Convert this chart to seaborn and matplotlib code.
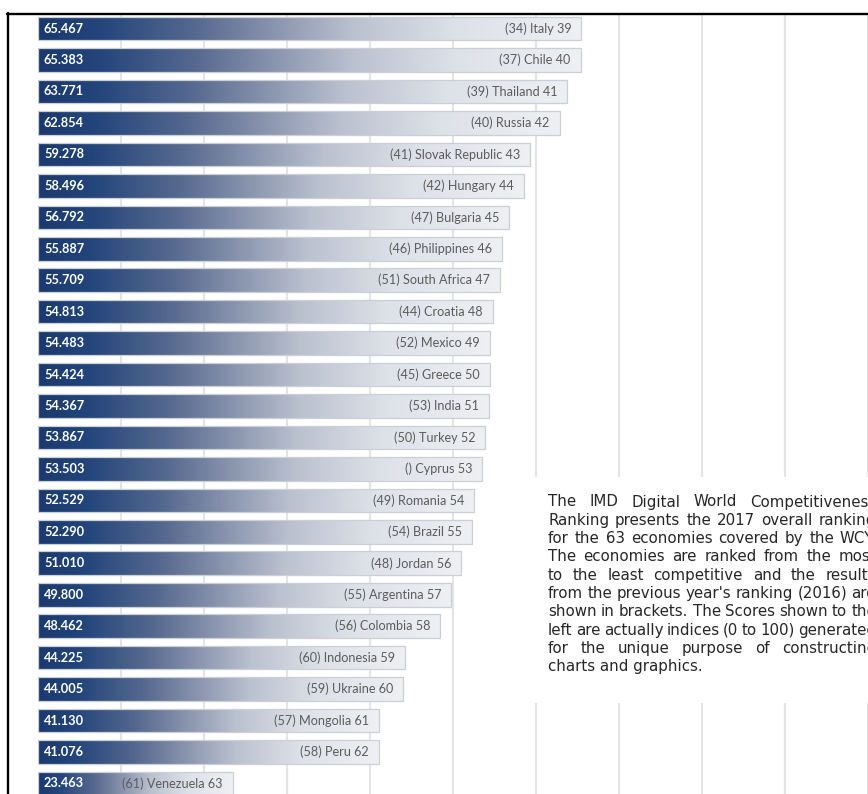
import numpy as np
import pandas as pd
import matplotlib
matplotlib.use("Agg")
import matplotlib.pyplot as plt
import seaborn as sns
from matplotlib.colors import LinearSegmentedColormap
from matplotlib.patches import Rectangle
from matplotlib.lines import Line2D
from matplotlib.transforms import IdentityTransform

# IMD Digital World Competitiveness Ranking 2017, ranks 39-63
countries = ["Italy", "Chile", "Thailand", "Russia", "Slovak Republic", "Hungary",
             "Bulgaria", "Philippines", "South Africa", "Croatia", "Mexico", "Greece",
             "India", "Turkey", "Cyprus", "Romania", "Brazil", "Jordan", "Argentina",
             "Colombia", "Indonesia", "Ukraine", "Mongolia", "Peru", "Venezuela"]
scores = [65.467, 65.383, 63.771, 62.854, 59.278, 58.496, 56.792, 55.887, 55.709,
          54.813, 54.483, 54.424, 54.367, 53.867, 53.503, 52.529, 52.290, 51.010,
          49.800, 48.462, 44.225, 44.005, 41.130, 41.076, 23.463]
rank_2017 = [39, 40, 41, 42, 43, 44, 45, 46, 47, 48, 49, 50, 51, 52, 53, 54, 55, 56,
             57, 58, 59, 60, 61, 62, 63]
rank_2016 = ["34", "37", "39", "40", "41", "42", "47", "46", "51", "44", "52", "45",
             "53", "50", "", "49", "54", "48", "55", "56", "60", "59", "57", "58", "61"]

note_lines = [
    "The IMD Digital World Competitiveness",
    "Ranking presents the 2017 overall ranking",
    "for the 63 economies covered by the WCY.",
    "The economies are ranked from the most",
    "to the least competitive and the results",
    "from the previous year's ranking (2016) are",
    "shown in brackets. The Scores shown to the",
    "left are actually indices (0 to 100) generated",
    "for the unique purpose of constructing",
    "charts and graphics.",
]

sns.set_theme(style="white")
plt.rcParams["font.family"] = ["Lato", "DejaVu Sans"]

W, H = 868, 794
fig = plt.figure(figsize=(W / 100, H / 100), dpi=100)
fig.patch.set_facecolor("white")
ax = fig.add_axes([38 / W, 0, 830 / W, (H - 14) / H])

df = pd.DataFrame({"country": countries, "score": scores})
sns.barplot(data=df, x="score", y="country", orient="h", width=0.75,
            color="white", saturation=1, ax=ax)

# navy-to-silver gradient clipped to every bar
bar_cmap = LinearSegmentedColormap.from_list(
    "navy_fade",
    [(0.0, "#1b396e"), (0.11, "#23457b"), (0.29, "#56698f"), (0.43, "#8893ad"),
     (0.58, "#bac1cf"), (0.77, "#dde1e8"), (1.0, "#eef0f3")])
ramp = np.linspace(0, 1, 256).reshape(1, -1)
for patch in ax.patches:
    x0, y0 = patch.get_x(), patch.get_y()
    w, h = patch.get_width(), patch.get_height()
    im = ax.imshow(ramp, cmap=bar_cmap, extent=[x0, x0 + w, y0 + h, y0],
                   aspect="auto", interpolation="bilinear", zorder=1)
    im.set_clip_path(patch)
    patch.set_facecolor("none")
    patch.set_edgecolor("#cbcfd6")
    patch.set_linewidth(0.9)
    patch.set_zorder(1.5)

ax.set_xlim(0, 100)
ax.set_ylim(24.336, -0.464)
ax.set_xticks(np.arange(10, 101, 10))
ax.xaxis.grid(True, color="#e4e4e4", linewidth=1.5)
ax.yaxis.grid(False)
ax.set_axisbelow(True)
ax.tick_params(left=False, bottom=False, labelleft=False, labelbottom=False)
ax.set_xlabel("")
ax.set_ylabel("")
for sp in ax.spines.values():
    sp.set_visible(False)

for i, (s, r16, r17, c) in enumerate(zip(scores, rank_2016, rank_2017, countries)):
    ax.annotate(f"{s:.3f}", xy=(0, i), xytext=(6, 0), textcoords="offset pixels",
                ha="left", va="center", color="white", fontsize=9.2,
                fontweight="bold", zorder=3)
    ax.annotate(f"({r16}) {c} {r17}", xy=(s, i), xytext=(-10, 0),
                textcoords="offset pixels", ha="right", va="center",
                color="#5c5c5c", fontsize=9.1, zorder=3)

# blank panel behind the explanatory note
fig.add_artist(Rectangle((525, H - 703), W - 525, 226, transform=IdentityTransform(),
                         facecolor="white", edgecolor="none", zorder=2))

# justified note text
renderer = fig.canvas.get_renderer()
left_px, right_px = 548, 876
base0, step = H - 506.5, 18.3
note_kw = dict(fontsize=10.8, color="#262626", family=["DejaVu Sans"],
               va="baseline", ha="left", transform=IdentityTransform(), zorder=3)
for k, line in enumerate(note_lines):
    yb = base0 - k * step
    words = line.split(" ")
    if k == len(note_lines) - 1:
        fig.text(left_px, yb, line, **note_kw)
        continue
    arts = [fig.text(0, yb, wd, **note_kw) for wd in words]
    widths = [a.get_window_extent(renderer).width for a in arts]
    gap = (right_px - left_px - sum(widths)) / (len(words) - 1)
    xpos = left_px
    for a, wdt in zip(arts, widths):
        a.set_x(xpos)
        xpos += wdt + gap

# frame lines on the left and top edges
fig.add_artist(Line2D([8, 8], [0, H - 13], transform=IdentityTransform(),
                      color="black", linewidth=1.7, zorder=4))
fig.add_artist(Line2D([7, W], [H - 14, H - 14], transform=IdentityTransform(),
                      color="black", linewidth=1.7, zorder=4))

fig.savefig("out.png", dpi=100, facecolor="white")
